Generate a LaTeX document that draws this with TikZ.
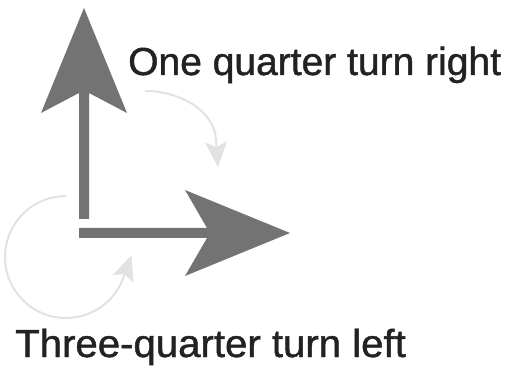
\documentclass[tikz,border=0pt]{standalone}
\usepackage{fontspec}
\setmainfont{Liberation Sans}
\newfontfamily\labelfont[FakeBold=1.2]{Liberation Sans}
\usetikzlibrary{arrows.meta}
\definecolor{bigarrow}{HTML}{737373}
\definecolor{turnarc}{HTML}{E2E2E2}
\definecolor{labeltext}{HTML}{222222}
\tikzset{
  bigfill/.style={fill=bigarrow, draw=none},
  turnline/.style={draw=turnarc, line width=2pt,
    -{Stealth[length=25pt, width=22pt, inset=5pt]}},
  turnlabel/.style={text=labeltext, font=\labelfont\fontsize{39}{44}\selectfont,
    inner sep=0pt, anchor=base west}
}
\begin{document}
\begin{tikzpicture}[x=1pt, y=1pt]
  \useasboundingbox (0,0) rectangle (510,369);
  % vertical arrow
  \fill[bigfill] (84,361) -- (127,256) -- (89,276) -- (89,150) -- (79,150)
     -- (79,276) -- (41,256) -- cycle;
  % horizontal arrow
  \fill[bigfill] (79,141) -- (207,141) -- (185,179) -- (290,136) -- (185,93)
     -- (207,131) -- (79,131) -- cycle;
  % quarter turn
  \coordinate (qs) at (145,278);
  \coordinate (qm) at (216,229);
  \coordinate (qe) at (218,202);
  \draw[turnline] (qs) .. controls (180,278) and (215,258) .. (qm) -- (qe);
  % three-quarter turn
  \coordinate (ts) at (66,173);
  \draw[turnline] (ts) arc[start angle=90, end angle=340, radius=61] -- ++(70:24);
  % labels
  \node[turnlabel] (right) at (128,294) {One quarter turn right};
  \node[turnlabel, xscale=1.03] (left) at (15,12) {Three-quarter turn left};
\end{tikzpicture}
\end{document}
